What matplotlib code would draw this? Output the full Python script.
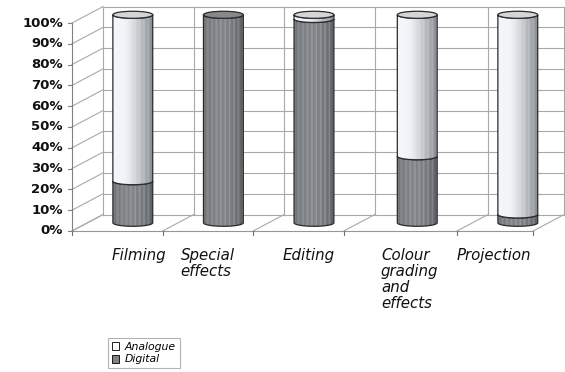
import numpy as np
import matplotlib
matplotlib.use('Agg')
import matplotlib.pyplot as plt
from matplotlib.patches import Ellipse, Polygon, Patch

# ---------------- data ----------------
categories = ['Filming', 'Special\neffects', 'Editing',
              'Colour\ngrading\nand\neffects', 'Projection']
digital = [20, 100, 98, 32, 4]
analogue = [80, 0, 2, 68, 96]
series_names = ['Analogue', 'Digital']
y_ticks = [0, 10, 20, 30, 40, 50, 60, 70, 80, 90, 100]
y_tick_labels = ['0%', '10%', '20%', '30%', '40%', '50%',
                 '60%', '70%', '80%', '90%', '100%']

# ---------------- layout / style ----------------
edges = [0, 1, 2, 3, 4.25, 5.09]          # category boundaries (front plane)
centers = [0.5, 1.5, 2.5, 3.64, 4.75]     # cylinder centres (front plane)
label_x = [0.44, 1.20, 2.32, 3.41, 4.25]  # left edge of category labels
dx, dy = 0.342, 7.9                       # depth offset of the back wall
cw, ch = 0.22, 1.7                        # cylinder half width / ellipse half height

fig = plt.figure(figsize=(5.65, 3.72), dpi=100)
ax = fig.add_axes([0, 0, 1, 1])
ax.axis('off')

grid_c = '#a9a9a9'
wall_c = '#959595'
lw = 0.8
E = edges[-1]
top = y_ticks[-1]

# back wall gridlines
for t in y_ticks:
    ax.plot([dx, E + dx], [t + dy, t + dy], color=grid_c, lw=lw, zorder=1)
for e in edges:
    ax.plot([e + dx, e + dx], [dy, top + dy], color=grid_c, lw=lw, zorder=1)
# left wall diagonals
for t in y_ticks:
    ax.plot([0, dx], [t, t + dy], color=grid_c, lw=lw, zorder=1)
# floor
ax.plot([0, E], [0, 0], color=wall_c, lw=lw, zorder=1)
for e in edges:
    ax.plot([e, e + dx], [0, dy], color=grid_c, lw=lw, zorder=1)
    ax.plot([e, e], [0, -1.8], color='#707070', lw=lw, zorder=1)
# front value axis
ax.plot([0, 0], [0, top], color='#808080', lw=lw, zorder=1)
for t, lab in zip(y_ticks, y_tick_labels):
    ax.plot([-0.045, 0], [t, t], color='#808080', lw=lw, zorder=1)
    ax.text(-0.10, t, lab, ha='right', va='center', fontsize=9.5,
            fontweight='bold', family='DejaVu Sans', color='#111111')

# category labels
for x, lab in zip(label_x, categories):
    ax.text(x, -8.3, lab, ha='left', va='top', fontsize=10.8,
            style='italic', family='DejaVu Sans', color='#111111',
            linespacing=1.08)


def shade(kind, n=240):
    u = np.linspace(0, 1, n)
    stripes = (0.05 * np.cos(2 * np.pi * u * 9.0)
               + 0.035 * np.cos(2 * np.pi * u * 21.0 + 1.0)
               + 0.02 * np.cos(2 * np.pi * u * 37.0 + 2.0))
    if kind == 'digital':
        g = 0.47 + 0.08 * np.sin(np.pi * (u * 0.9 + 0.05)) - 0.08 * u ** 4
        g = g + stripes * (0.7 + 0.6 * u)
    else:
        g = 0.97 - 0.04 * u - 0.36 * np.clip((u - 0.3) / 0.7, 0, 1) ** 1.2
        g = g + stripes * np.clip((u - 0.4) / 0.6, 0, 1) * 1.0
    g = np.clip(g, 0, 1)
    rgb = np.stack([g - 0.012, g, g + 0.014], axis=-1)
    return np.clip(rgb, 0, 1)[None, :, :]


def body(xc, y0, y1, n=60):
    t = np.linspace(np.pi, 2 * np.pi, n)
    bottom = np.column_stack([xc + cw * np.cos(t), y0 + ch * np.sin(t)])
    tt = t[::-1]
    upper = np.column_stack([xc + cw * np.cos(tt), y1 + ch * np.sin(tt)])
    return np.vstack([[[xc - cw, y1]], bottom, upper])


z = 3
for c, d, a in zip(centers, digital, analogue):
    xc = c + dx / 2
    base = dy / 2
    segs = [(base, base + d, 'digital'), (base + d, base + d + a, 'analogue')]
    for y0, y1, kind in segs:
        if y1 - y0 <= 0:
            continue
        poly = Polygon(body(xc, y0, y1), closed=True, facecolor='none',
                       edgecolor='#2b2b2b', lw=0.9, zorder=z + 0.5)
        ax.add_patch(poly)
        im = ax.imshow(shade(kind), extent=[xc - cw, xc + cw, y0 - ch, y1 + ch],
                       aspect='auto', interpolation='bilinear', zorder=z)
        im.set_clip_path(poly)
        z += 1
    top_kind = 'analogue' if a > 0 else 'digital'
    cap_c = '#d3d5d7' if top_kind == 'analogue' else '#85898d'
    ax.add_patch(Ellipse((xc, base + d + a), 2 * cw, 2 * ch, facecolor=cap_c,
                         edgecolor='#2b2b2b', lw=0.9, zorder=z))
    z += 1

ax.set_xlim(-0.795, 5.442)
ax.set_ylim(-67.8, 111.06)

handles = [Patch(facecolor='white', edgecolor='black', lw=0.6),
           Patch(facecolor='#808488', edgecolor='black', lw=0.6)]
leg = fig.legend(handles, series_names, loc='upper left',
                 bbox_to_anchor=(108 / 565, 1 - 338 / 372),
                 prop={'family': 'DejaVu Sans', 'style': 'italic', 'size': 7.8},
                 frameon=True, fancybox=False, borderpad=0.35,
                 labelspacing=0.25, handlelength=0.7, handleheight=0.7,
                 handletextpad=0.5, borderaxespad=0)
leg.get_frame().set_edgecolor('#a0a0a0')
leg.get_frame().set_linewidth(0.8)

fig.savefig('out.png', dpi=100)
